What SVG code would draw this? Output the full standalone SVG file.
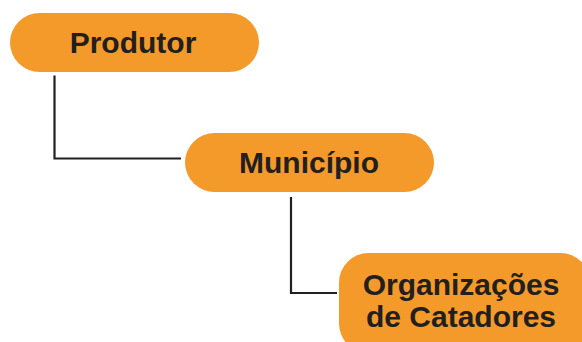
<svg xmlns="http://www.w3.org/2000/svg" width="582" height="342" viewBox="0 0 582 342">
<style>
.box{fill:#F49A2A;}
.lbl{font-family:"Liberation Sans",Arial,sans-serif;font-weight:bold;font-size:30px;fill:#231F20;text-anchor:middle;}
.conn{fill:none;stroke:#231F20;stroke-width:2.2;}
</style>
<rect width="582" height="342" fill="#FFFFFF"/>
<g id="connectors">
<path class="conn" d="M54.5 75.5 V158.5 H181"/>
<path class="conn" d="M291 197 V293 H337"/>
</g>
<g id="produtor">
<rect class="box" x="10" y="13" width="249" height="59" rx="29.5"/>
<text class="lbl" x="133" y="52.5">Produtor</text>
</g>
<g id="municipio">
<rect class="box" x="185" y="133" width="249" height="59" rx="29.5"/>
<text class="lbl" x="309" y="173">Município</text>
</g>
<g id="organizacoes">
<rect class="box" x="339" y="253" width="251" height="100" rx="29.5"/>
<text class="lbl" x="461" y="295">Organizações</text>
<text class="lbl" x="461" y="327">de Catadores</text>
</g>
</svg>
